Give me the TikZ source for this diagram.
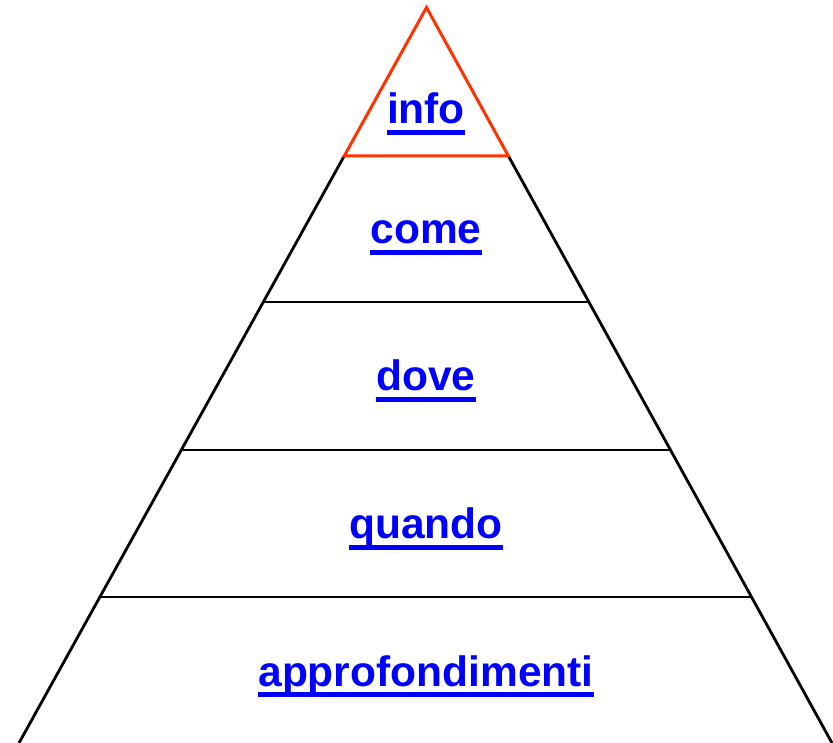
\documentclass[tikz,border=0pt]{standalone}
\usepackage{fontspec}
\setmainfont{Liberation Sans}
\usepackage{xcolor}
\usetikzlibrary{positioning}
\definecolor{linkblue}{HTML}{0000FF}
\definecolor{tipred}{HTML}{FF3300}
\newcommand{\linkU}[1]{\setbox0\hbox{#1}\rlap{\copy0}\rule[-0.26em]{\wd0}{0.11em}}

\begin{document}
\begin{tikzpicture}[x=1pt, y=-1pt,
    level/.style={draw=black, line width=2.8pt},
    tip/.style={draw=tipred, line width=3pt},
    linklabel/.style={font=\fontsize{42.5}{50}\selectfont\bfseries, text=linkblue,
      inner sep=0pt, anchor=base}]
      \useasboundingbox (0, 0) rectangle (833, 743);

      % Corners of the pyramid
      \coordinate (apex) at (426.5, 7.5);
      \coordinate (l1) at (344.2, 156);   \coordinate (r1) at (508.4, 156);
      \coordinate (l2) at (263.3, 302);   \coordinate (r2) at (588.9, 302);
      \coordinate (l3) at (181.5, 450);   \coordinate (r3) at (670.0, 450);
      \coordinate (l4) at (100.0, 597);   \coordinate (r4) at (751.5, 597);
      \coordinate (l5) at (19.0, 743);    \coordinate (r5) at (832.0, 743);

      % Sides and levels
      \draw[level] (l1) -- (l5);
      \draw[level] (r1) -- (r5);
      \draw[level] (l2) -- (r2);
      \draw[level] (l3) -- (r3);
      \draw[level] (l4) -- (r4);

      % Top triangle
      \draw[tip] (apex) -- (r1) -- (l1) -- cycle;

      % Labels
      \node[linklabel] (info) at (426, 124) {\linkU{info}};
      \node[linklabel] (come) at (426, 243.5) {\linkU{come}};
      \node[linklabel] (dove) at (426, 391) {\linkU{dove}};
      \node[linklabel] (quando) at (426, 538.5) {\linkU{quando}};
      \node[linklabel] (approfondimenti) at (426, 686) {\linkU{approfondimenti}};
    \end{tikzpicture}
\end{document}
